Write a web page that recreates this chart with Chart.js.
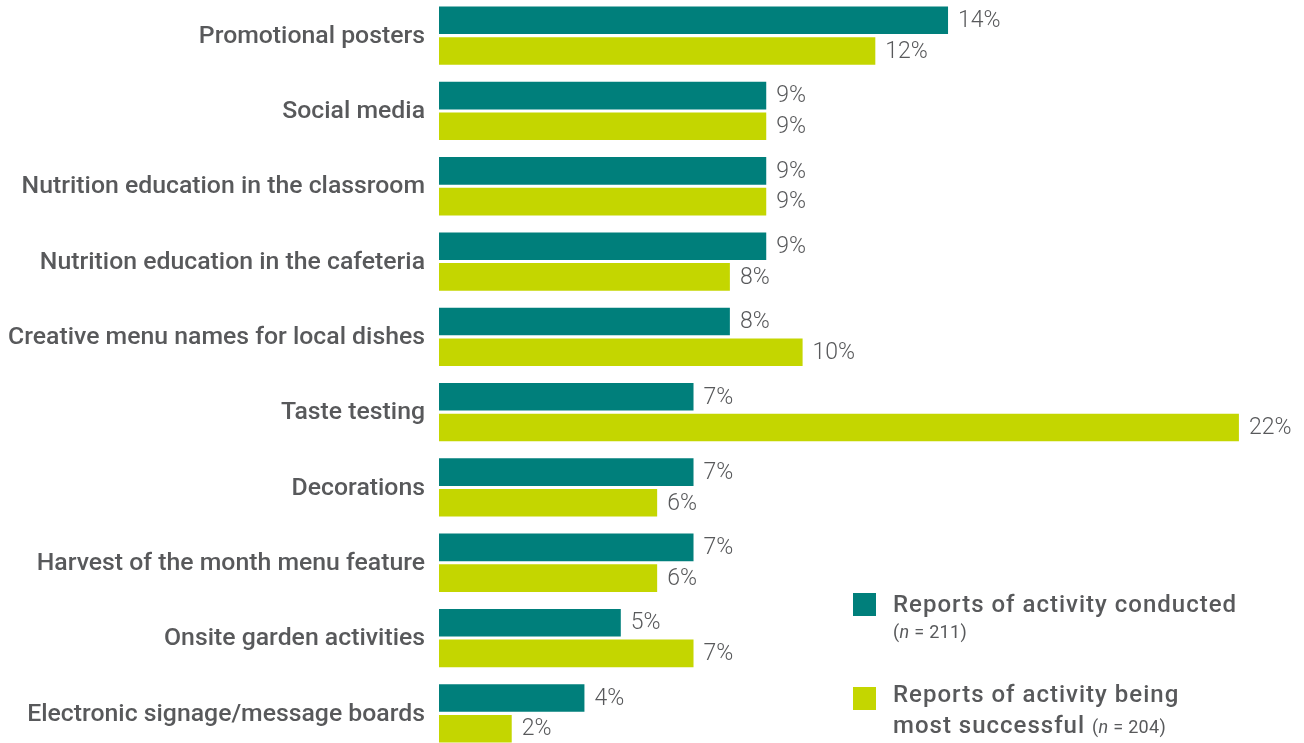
<!DOCTYPE html>
<html>
<head>
<meta charset="utf-8">
<script src="https://cdn.jsdelivr.net/npm/chart.js@4.4.1/dist/chart.umd.min.js"></script>
<style>
  html, body { margin: 0; padding: 0; background: #fff; overflow: hidden; }
  #wrap { position: relative; width: 1304px; height: 743px; }
  #chartBox { position: absolute; left: 0; top: -2px; width: 1304px; height: 753px; }
  .legend { position: absolute; left: 853px; font-family: Roboto, sans-serif; color: #58595b; }
  .legend .sw { position: absolute; left: 0; width: 23px; height: 23px; }
  .legend .txt { position: absolute; left: 40px; width: 420px; font-size: 24px; font-weight: 500; line-height: 31px; letter-spacing: 1px; }
  .legend small { font-size: 18px; font-weight: 400; letter-spacing: 0.3px; }
</style>
</head>
<body>
<div id="wrap">
  <div id="chartBox"><canvas id="myChart"></canvas></div>
  <div class="legend" style="top:593px">
    <div class="sw" style="background:#007f7b"></div>
    <div class="txt" style="top:-4px">Reports of activity conducted<br><small style="position:relative;top:-5px">(<i>n</i> = 211)</small></div>
  </div>
  <div class="legend" style="top:687px">
    <div class="sw" style="background:#c4d600"></div>
    <div class="txt" style="top:-8px">Reports of activity being<br>most successful <small>(<i>n</i> = 204)</small></div>
  </div>
</div>
<script>
'use strict'
let activityNames = ['Promotional posters', 'Social media', 'Nutrition education in the classroom',
  'Nutrition education in the cafeteria', 'Creative menu names for local dishes', 'Taste testing',
  'Decorations', 'Harvest of the month menu feature', 'Onsite garden activities',
  'Electronic signage/message boards'];
let conductedPct = [14, 9, 9, 9, 8, 7, 7, 7, 5, 4];
let successfulPct = [12, 9, 9, 8, 10, 22, 6, 6, 7, 2];

let textGray = '#58595b';

// category names on the left and percent labels to the right of each bar
let barLabels = {
  id: 'barLabels',
  afterDatasetsDraw(chart) {
    let ctx = chart.ctx;
    let yScale = chart.scales.y;
    ctx.save();
    ctx.fillStyle = textGray;
    ctx.textBaseline = 'middle';

    ctx.font = '500 24.8px Roboto, sans-serif';
    ctx.textAlign = 'right';
    chart.data.labels.forEach((name, i) => {
      ctx.fillText(name, 425, yScale.getPixelForTick(i) + 1);
    });

    ctx.font = '300 23px Roboto, sans-serif';
    ctx.textAlign = 'left';
    chart.data.datasets.forEach((ds, di) => {
      let meta = chart.getDatasetMeta(di);
      meta.data.forEach((bar, i) => {
        ctx.fillText(ds.data[i] + '%', bar.x + 10, bar.y + 1);
      });
    });
    ctx.restore();
  }
};

let ctx = document.getElementById('myChart').getContext('2d');
let myChart = new Chart(ctx, {
  type: 'bar',
  data: {
    labels: activityNames,
    datasets: [{
      label: 'Reports of activity conducted',
      data: conductedPct,
      backgroundColor: '#007f7b'
    }, {
      label: 'Reports of activity being most successful',
      data: successfulPct,
      backgroundColor: '#c4d600'
    }]
  },
  options: {
    indexAxis: 'y',
    responsive: true,
    maintainAspectRatio: false,
    animation: false,
    layout: { padding: 0 },
    datasets: {
      bar: { categoryPercentage: 0.815, barPercentage: 0.9 }
    },
    plugins: {
      legend: { display: false },
      tooltip: { enabled: false }
    },
    scales: {
      x: {
        display: false,
        min: 0,
        max: 23.79
      },
      y: {
        grid: { display: false, drawTicks: false },
        border: { display: false },
        afterFit(scale) { scale.width = 439; },
        ticks: { display: false }
      }
    }
  },
  plugins: [barLabels]
});
</script>
</body>
</html>
